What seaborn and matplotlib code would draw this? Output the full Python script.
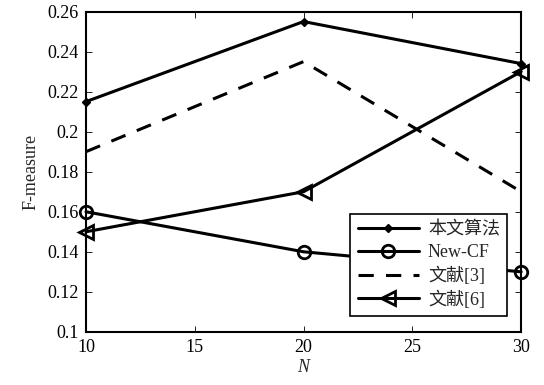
import matplotlib
matplotlib.use("Agg")
import matplotlib.pyplot as plt
import seaborn as sns
import pandas as pd

sns.set_style("ticks")
plt.rcParams['font.family'] = ['Liberation Serif', 'Noto Sans CJK SC']
plt.rcParams['axes.unicode_minus'] = False

N = [10, 20, 30]
series_names = ["本文算法", "New-CF", "文献[3]", "文献[6]"]
ours = [0.215, 0.255, 0.234]
new_cf = [0.160, 0.140, 0.130]
ref3 = [0.190, 0.235, 0.170]
ref6 = [0.150, 0.170, 0.230]

x_ticks = [10, 15, 20, 25, 30]
y_ticks = [0.10, 0.12, 0.14, 0.16, 0.18, 0.20, 0.22, 0.24, 0.26]
y_tick_labels = ["0.1", "0.12", "0.14", "0.16", "0.18", "0.2", "0.22", "0.24", "0.26"]

# per-series line/marker appearance
styles = {
    "本文算法": dict(marker="D", markersize=4.5, linestyle="-", mfc="black", mew=1),
    "New-CF": dict(marker="o", markersize=9, linestyle="-", mfc="none", mew=2),
    "文献[3]": dict(marker="None", markersize=0, linestyle=(0, (5, 4)), mfc="none", mew=0),
    "文献[6]": dict(marker="<", markersize=10, linestyle="-", mfc="none", mew=2),
}

fig = plt.figure(figsize=(5.44, 3.85), dpi=100)
ax = fig.add_axes([0.158, 0.138, 0.8, 0.832])

for name, vals in zip(series_names, [ours, new_cf, ref3, ref6]):
    df = pd.DataFrame({"N": N, "F": vals})
    n_before = len(ax.lines)
    sns.lineplot(data=df, x="N", y="F", ax=ax, color="black", linewidth=2.2,
                 label=name)
    line = ax.lines[n_before]
    st = styles[name]
    line.set_marker(st["marker"])
    line.set_markersize(st["markersize"])
    line.set_linestyle(st["linestyle"])
    line.set_markerfacecolor(st["mfc"])
    line.set_markeredgecolor("black")
    line.set_markeredgewidth(st["mew"])
    line.set_clip_on(False)

ax.set_xlim(10, 30)
ax.set_ylim(0.1, 0.26)
ax.set_xticks(x_ticks)
ax.set_xticklabels([str(t) for t in x_ticks])
ax.set_yticks(y_ticks)
ax.set_yticklabels(y_tick_labels)
ax.tick_params(direction="in", top=True, right=True, labelsize=13, length=4,
               width=0.6, colors="black")
ax.tick_params(axis="x", pad=5)
ax.tick_params(axis="y", pad=5)
for sp in ax.spines.values():
    sp.set_linewidth(1.5)
    sp.set_color("black")
    sp.set_visible(True)

ax.set_xlabel("N", fontsize=13, style="italic", labelpad=2)
ax.set_ylabel("F-measure", fontsize=13, labelpad=6)

leg = ax.legend(loc="lower right", bbox_to_anchor=(0.968, 0.05), fontsize=13,
                frameon=True, fancybox=False, edgecolor="black", framealpha=1,
                handlelength=3.4, borderpad=0.4, labelspacing=0.3,
                handletextpad=0.5, borderaxespad=0)
leg.get_frame().set_linewidth(1.2)

fig.savefig("out.png", dpi=100)
